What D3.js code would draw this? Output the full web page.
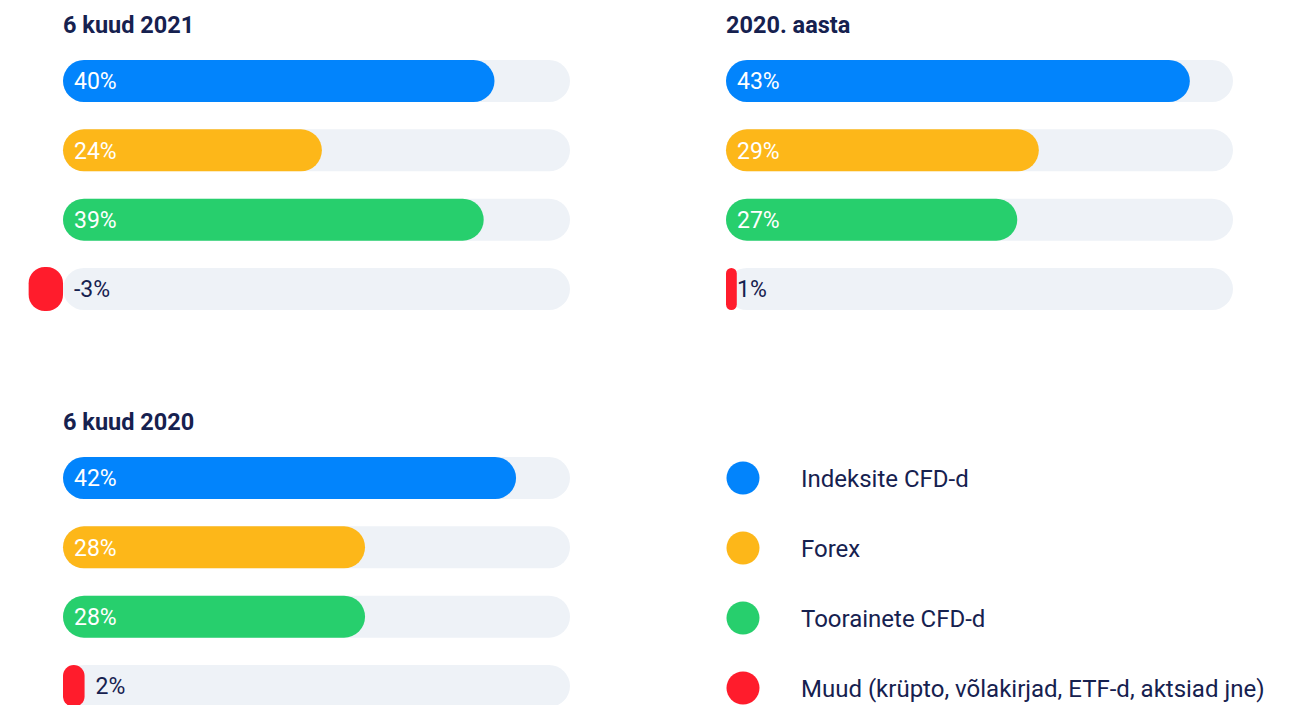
<!DOCTYPE html>
<html>
<head>
<meta charset="utf-8">
<script src="https://cdn.jsdelivr.net/npm/d3@7"></script>
<style>
  body { margin: 0; background: #fff; }
  svg { display: block; font-family: Roboto, "Noto Sans", sans-serif; }
</style>
</head>
<body>
<div id="chart"></div>
<script>
// instrumentide osakaal, kolm perioodi

const svgWidth = 1297;
const svgHeight = 705;

const categories = ["Indeksite CFD-d", "Forex", "Toorainete CFD-d", "Muud (krüpto, võlakirjad, ETF-d, aktsiad jne)"];
const colors = ["#0284fc", "#fdb719", "#27cf6d", "#ff1c2c"];

const titles = ["6 kuud 2021", "2020. aasta", "6 kuud 2020"];
const values2021h1 = [40, 24, 39, -3];
const values2020 = [43, 29, 27, 1];
const values2020h1 = [42, 28, 28, 2];

const panels = [
    { title: titles[0], values: values2021h1, x: 63, y: 0 },
    { title: titles[1], values: values2020, x: 726, y: 0 },
    { title: titles[2], values: values2020h1, x: 63, y: 397 }
];

const trackWidth = 507;
const barHeight = 42;
const navy = "#16214f";

const svg = d3.select("#chart")
    .append("svg")
    .attr("width", svgWidth)
    .attr("height", svgHeight);

// one scale for all bars
const xScale = d3.scaleLinear()
    .domain([0, 47])
    .range([0, trackWidth]);

const yScale = d3.scalePoint()
    .domain(categories)
    .range([81, 289]);

panels.forEach(function(p) {
    const g = svg.append("g")
        .attr("transform", `translate(${p.x}, ${p.y})`);

    g.append("text")
        .attr("x", 0)
        .attr("y", 33)
        .attr("fill", navy)
        .attr("font-size", "23.5px")
        .attr("font-weight", "bold")
        .text(p.title);

    const rows = g.selectAll(".row")
        .data(p.values.map((v, i) => ({ v: v, cat: categories[i], color: colors[i] })))
        .enter()
        .append("g")
        .attr("class", "row")
        .attr("transform", d => `translate(0, ${yScale(d.cat) - barHeight / 2})`);

    // background track
    rows.append("rect")
        .attr("x", 0)
        .attr("width", trackWidth)
        .attr("height", barHeight)
        .attr("rx", barHeight / 2)
        .attr("fill", "#eef2f7");

    rows.append("rect")
        .attr("x", d => Math.min(xScale(0), xScale(d.v)) - (d.v < 0 ? 2 : 0))
        .attr("y", d => (d.v < 0 ? -1 : 0))
        .attr("width", d => Math.abs(xScale(d.v) - xScale(0)) + (d.v < 0 ? 2 : 0))
        .attr("height", d => barHeight + (d.v < 0 ? 2 : 0))
        .attr("rx", d => Math.min(barHeight / 2, Math.abs(xScale(d.v) - xScale(0)) / 2))
        .attr("fill", d => d.color);

    // labels: white inside the long bars, navy after the short ones
    rows.append("text")
        .attr("x", function(d) {
            const w = xScale(d.v) - xScale(0);
            if (w > 60) return 11;
            return 11 + (w > 15 ? w : 0);
        })
        .attr("y", barHeight / 2)
        .attr("dy", "0.36em")
        .attr("font-size", "23px")
        .attr("fill", d => (xScale(d.v) - xScale(0) > 60 ? "#fff" : navy))
        .text(d => `${d.v}%`);
});

// legend
const legendY = d3.scalePoint()
    .domain(categories)
    .range([478, 688]);

const legend = svg.append("g")
    .selectAll("g")
    .data(categories)
    .enter()
    .append("g")
    .attr("transform", d => `translate(743, ${legendY(d)})`);

legend.append("circle")
    .attr("r", 16.5)
    .attr("fill", (d, i) => colors[i]);

legend.append("text")
    .attr("x", 58)
    .attr("dy", "0.36em")
    .attr("font-size", "24px")
    .attr("fill", navy)
    .text(d => d);
</script>
</body>
</html>
